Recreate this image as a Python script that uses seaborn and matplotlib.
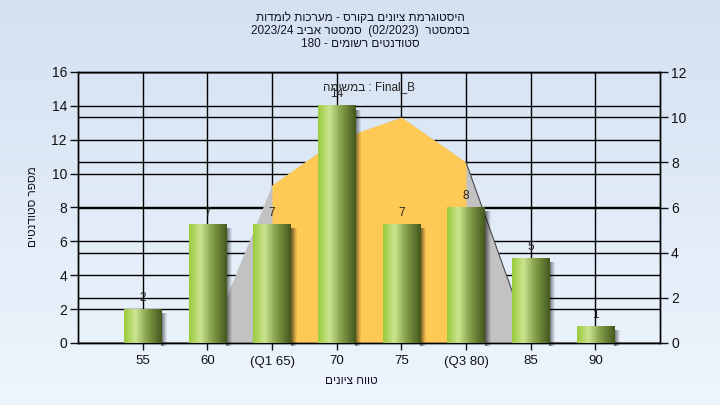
import re
import numpy as np
import matplotlib
matplotlib.use("Agg")
import matplotlib.pyplot as plt
from matplotlib.colors import LinearSegmentedColormap
from matplotlib.patches import Rectangle
from matplotlib.lines import Line2D
import seaborn as sns

# data
grade_bins = ["55", "60", "(Q1 65)", "70", "75", "(Q3 80)", "85", "90"]
students = [2, 7, 7, 14, 7, 8, 5, 1]          # left axis
curve = [0, 0, 7, 9, 10, 8, 0, 0]             # right axis (background area)
q1_idx, q3_idx = 2, 5
left_ticks = list(range(0, 17, 2))
right_ticks = list(range(0, 13, 2))

title_lines = [
    "היסטוגרמת ציונים בקורס - מערכות לומדות",
    "בסמסטר  (02/2023)  סמסטר אביב 2023/24",
    "סטודנטים רשומים - 180",
]
exam_label = "Final_B : במשימה"
x_title = "טווח ציונים"
y_title = "מספר סטודנטים"


def rtl(s):
    # matplotlib has no bidi support: put right-to-left text in visual order
    r = s[::-1]
    r = re.sub(r"[0-9A-Za-z_/.]+", lambda m: m.group(0)[::-1], r)
    return r.translate(str.maketrans("()", ")("))


plt.rcParams["font.family"] = ["Liberation Sans", "DejaVu Sans"]

fig = plt.figure(figsize=(7.2, 4.05), dpi=100)

# light blue gradient background
bg = fig.add_axes([0, 0, 1, 1], zorder=-10)
bg.imshow(np.linspace(0, 1, 256).reshape(-1, 1), aspect="auto", extent=[0, 1, 0, 1],
          cmap=LinearSegmentedColormap.from_list("bg", ["#d4e1f2", "#eef5fd"]))
bg.axis("off")

ax1 = fig.add_axes([78 / 720, 1 - 343 / 405, 582 / 720, 271 / 405])
ax2 = ax1.twinx()
ax1.set_zorder(ax2.get_zorder() + 1)
ax1.patch.set_visible(False)
ax2.set_facecolor("#b4b4b4")

# bars
sns.barplot(x=grade_bins, y=students, ax=ax1, width=0.58, color="#8fb34a",
            saturation=1, zorder=3)

# area on the right axis
pos = np.arange(len(grade_bins))
curve_arr = np.array(curve)
ax2.fill_between(pos, curve_arr, color="#c2c2c2", lw=0, zorder=1)
mid = slice(q1_idx, q3_idx + 1)
ax2.fill_between(pos[mid], curve_arr[mid], color="#fec955", lw=0, zorder=1.1)
ax2.plot(pos[q3_idx:q3_idx + 2], curve_arr[q3_idx:q3_idx + 2], color="#4a4a4a",
         lw=0.8, zorder=1.2)

# grid lines (under the area)
ax2.set_axisbelow(True)
for p in pos:
    ax2.axvline(p, color="black", lw=1, zorder=0.5)
for t in right_ticks:
    ax2.axhline(t, color="black", lw=1, zorder=0.5)
for t in left_ticks:
    ax2.add_artist(Line2D([0, 1], [t, t], transform=ax1.get_yaxis_transform(),
                          color="black", lw=1, zorder=0.5))

# gradient fill + shadow for each bar
bar_cmap = LinearSegmentedColormap.from_list(
    "bar", [(0, "#9ccb3e"), (0.3, "#cbe48f"), (0.6, "#86a24c"), (1, "#45591c")])
px, py = 1 / 64.7, 1 / 16.94
bars = list(ax1.patches)
for bar in bars:
    x0, w, h = bar.get_x(), bar.get_width(), bar.get_height()
    for i, a in enumerate([0.55, 0.45, 0.35, 0.25, 0.15, 0.07]):
        ax1.add_patch(Rectangle((x0 + w + i * px, -3 * py), px, h - 1 * py,
                                color="black", alpha=a, lw=0, zorder=2.5, clip_on=False))
    ax1.imshow(np.linspace(0, 1, 64).reshape(1, -1), cmap=bar_cmap, aspect="auto",
               extent=[x0, x0 + w, 0, h], zorder=3, interpolation="bilinear")
    bar.set_facecolor("none")
    bar.set_edgecolor("none")

ax1.bar_label(ax1.containers[0], padding=4, fontsize=8.5, color="#222222")

ax1.set_xlim(-1, 8)
ax1.set_ylim(0, 16)
ax1.set_yticks(left_ticks)
ax2.set_ylim(0, 12)
ax2.set_yticks(right_ticks)
ax1.set_xlabel("")
ax1.set_ylabel("")

ax1.tick_params(axis="y", length=6, width=1, labelsize=10, pad=2, colors="#111111")
ax1.tick_params(axis="x", length=5, width=1, labelsize=9.5, pad=4, colors="#111111")
ax2.tick_params(axis="y", length=6, width=1, labelsize=10, pad=2, colors="#111111")
for ax in (ax1, ax2):
    for sp in ax.spines.values():
        sp.set_color("black")
        sp.set_linewidth(1)

ax1.text(0.5, 0.945, rtl(exam_label), transform=ax1.transAxes, ha="center",
         va="center", fontsize=8.5, color="#222222", zorder=5)

for i, line in enumerate(title_lines):
    fig.text(0.5, 1 - (18 + 13 * i) / 405, rtl(line), ha="center", va="center",
             fontsize=8.5, color="#141428")
fig.text(351 / 720, 1 - 381 / 405, rtl(x_title), ha="center", va="center",
         fontsize=8.5, color="#141428")
fig.text(33 / 720, 1 - 207 / 405, rtl(y_title), ha="center", va="center",
         rotation=90, fontsize=8.5, color="#141428")

fig.savefig("out.png", dpi=100)
